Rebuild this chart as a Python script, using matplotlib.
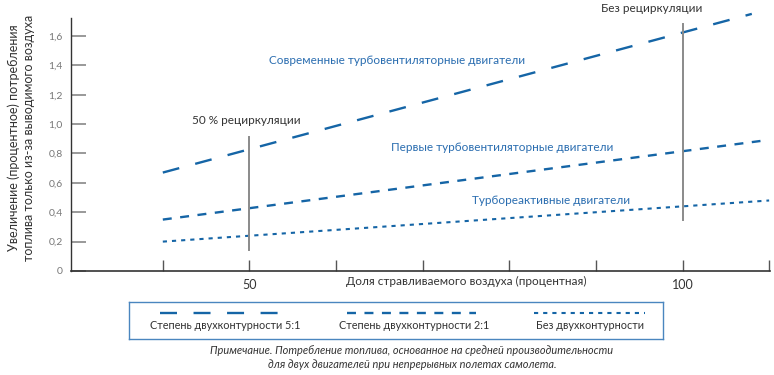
import matplotlib
matplotlib.use("Agg")
from matplotlib import pyplot as plt

plt.rcParams['font.family'] = ['Lato', 'DejaVu Sans']

# data
bypass5_x = [40, 108]
bypass5_y = [0.67, 1.75]
bypass2_x = [40, 109]
bypass2_y = [0.35, 0.885]
turbojet_x = [40, 110]
turbojet_y = [0.20, 0.48]

recirc_x = [50, 100]
recirc_lo = [0.14, 0.35]
recirc_hi = [0.91, 1.68]
recirc_labels = ['50 % рециркуляции', 'Без рециркуляции']

yticks = [0, 0.2, 0.4, 0.6, 0.8, 1.0, 1.2, 1.4, 1.6]
ytick_labels = ['0', '0,2', '0,4', '0,6', '0,8', '1,0', '1,2', '1,4', '1,6']
xticks = [40, 50, 60, 70, 80, 90, 100, 110]
xtick_labels = ['', '50', '', '', '', '', '100', '']

legend_labels = ['Степень двухконтурности 5:1', 'Степень двухконтурности 2:1', 'Без двухконтурности']

blue = '#1565a6'
text_blue = '#2a6db0'
gray = '#8a8a8a'
dark = '#333333'

style5 = dict(color=blue, lw=1.7, dashes=(7.2, 7.0), dash_capstyle='butt')
style2 = dict(color=blue, lw=1.7, dashes=(3.8, 3.6), dash_capstyle='butt')
style0 = dict(color=blue, lw=1.5, dashes=(2.0, 2.4), dash_capstyle='butt')

fig = plt.figure(figsize=(7.74, 3.75), dpi=100)
ax = fig.add_axes([71 / 774, 1 - 271 / 375, 699 / 774, (271 - 18.3) / 375])

ax.plot(bypass5_x, bypass5_y, clip_on=False, **style5)
ax.plot(bypass2_x, bypass2_y, clip_on=False, **style2)
ax.plot(turbojet_x, turbojet_y, clip_on=False, **style0)

for x, lo, hi in zip(recirc_x, recirc_lo, recirc_hi):
    ax.plot([x, x], [lo, hi], color=gray, lw=1.4)

ax.text(49.6, 0.99, recirc_labels[0], ha='center', va='bottom', fontsize=8.5, color=dark)
ax.text(96.4, 1.75, recirc_labels[1], ha='center', va='bottom', fontsize=8.5, color=dark)

ax.text(52.3, 1.43, 'Современные турбовентиляторные двигатели', ha='left', va='center', fontsize=8.5, color=text_blue)
ax.text(66.3, 0.84, 'Первые турбовентиляторные двигатели', ha='left', va='center', fontsize=8.5, color=text_blue)
ax.text(75.7, 0.48, 'Турбореактивные двигатели', ha='left', va='center', fontsize=8.5, color=text_blue)

ax.set_xlim(29.4, 110.1)
ax.set_ylim(0, 1.72)
ax.set_yticks(yticks)
ax.set_yticklabels(ytick_labels)
ax.set_xticks(xticks)
ax.set_xticklabels(xtick_labels)
ax.tick_params(axis='y', direction='in', length=11, width=1.4, color='#999999', labelcolor='#777777', labelsize=7.5, pad=6)
ax.tick_params(axis='x', direction='in', length=8, width=1, color='#555555', labelcolor=dark, labelsize=9, pad=6)
for s in ['top', 'right']:
    ax.spines[s].set_visible(False)
ax.spines['left'].set_color(dark)
ax.spines['bottom'].set_color(dark)
ax.spines['left'].set_linewidth(1.0)
ax.spines['bottom'].set_linewidth(1.2)

ax.text(75, -0.072, 'Доля стравливаемого воздуха (процентная)', ha='center', va='center', fontsize=8.5, color=dark)
fig.text(21 / 774, 1 - 138 / 375, 'Увеличение (процентное) потребления\nтоплива только из-за выводимого воздуха',
         rotation=90, ha='center', va='center', fontsize=9, color=dark, linespacing=1.3)

# legend box
lax = fig.add_axes([129 / 774, 36 / 375, 534 / 774, 37 / 375])
lax.set_xlim(129, 663)
lax.set_ylim(339, 302)
lax.set_xticks([])
lax.set_yticks([])
for s in lax.spines.values():
    s.set_color('#4a86bf')
    s.set_linewidth(1.0)
lax.plot([160, 283], [313, 313], **style5)
lax.plot([347, 476], [313, 313], **style2)
lax.plot([534, 645], [313, 313], **style0)
for cx, lab in zip([225, 414, 590], legend_labels):
    lax.text(cx, 326, lab, ha='center', va='center', fontsize=7.8, color=dark)

fig.text(412 / 774, 1 - 350 / 375, 'Примечание. Потребление топлива, основанное на средней производительности',
         ha='center', va='center', fontsize=7.9, style='italic', color=dark)
fig.text(412 / 774, 1 - 365 / 375, 'для двух двигателей при непрерывных полетах самолета.',
         ha='center', va='center', fontsize=7.9, style='italic', color=dark)

fig.savefig('out.png', dpi=100)
